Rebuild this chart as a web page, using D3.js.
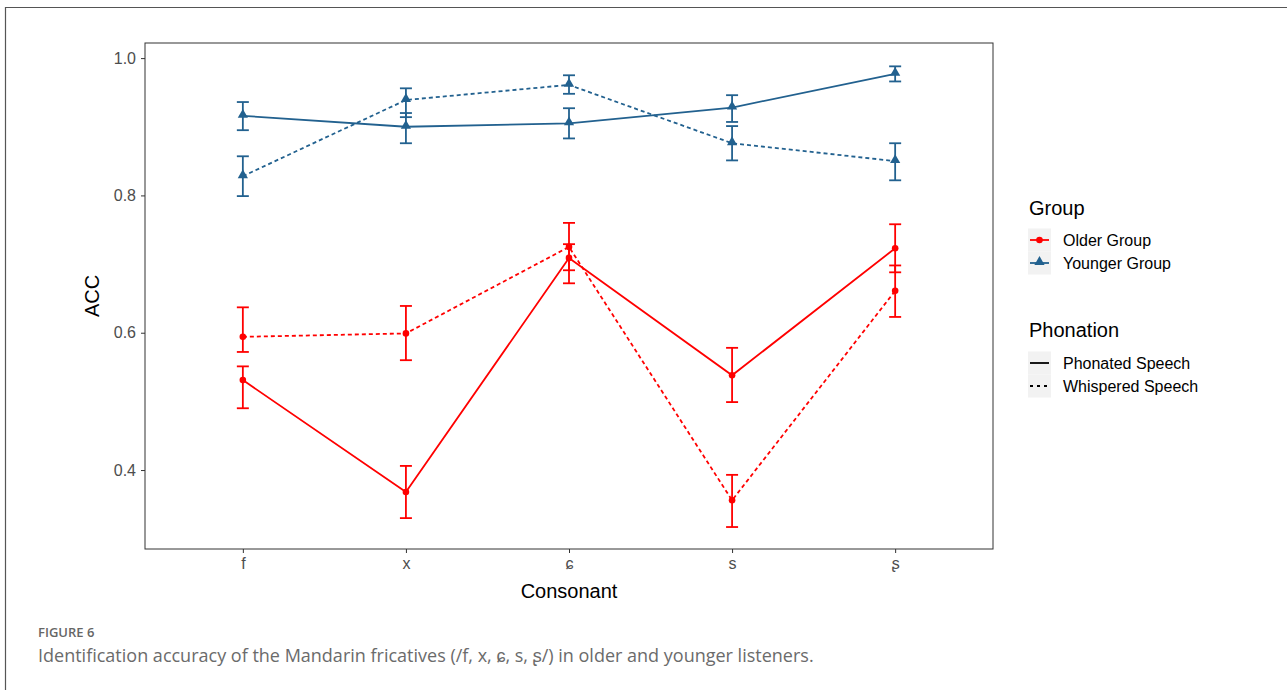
<!DOCTYPE html>
<html>
<head>
<meta charset="utf-8">
<script src="https://cdn.jsdelivr.net/npm/d3@7"></script>
<style>
  body { margin: 0; background: #fff; }
  svg text { font-family: "Liberation Sans", Arial, sans-serif; }
</style>
</head>
<body>
<div id="main"></div>
<script>
const Width = 1287, Height = 690;

// data
const consonants = ["f", "x", "ɕ", "s", "ʂ"];
const groups = ["Older Group", "Younger Group"];
const phonations = ["Phonated Speech", "Whispered Speech"];

const olderPhonated      = [0.531, 0.368, 0.709, 0.538, 0.723];
const olderPhonatedLo    = [0.490, 0.330, 0.672, 0.499, 0.688];
const olderPhonatedHi    = [0.551, 0.406, 0.729, 0.578, 0.758];
const olderWhispered     = [0.594, 0.599, 0.725, 0.356, 0.661];
const olderWhisperedLo   = [0.572, 0.560, 0.691, 0.317, 0.623];
const olderWhisperedHi   = [0.637, 0.639, 0.760, 0.393, 0.698];
const youngerPhonated    = [0.916, 0.900, 0.905, 0.928, 0.977];
const youngerPhonatedLo  = [0.895, 0.876, 0.883, 0.907, 0.966];
const youngerPhonatedHi  = [0.936, 0.920, 0.927, 0.946, 0.988];
const youngerWhispered   = [0.828, 0.939, 0.961, 0.876, 0.850];
const youngerWhisperedLo = [0.799, 0.914, 0.948, 0.851, 0.822];
const youngerWhisperedHi = [0.857, 0.956, 0.975, 0.901, 0.876];
const yTicks = [0.4, 0.6, 0.8, 1.0];

const colors = {"Older Group": "#ff0000", "Younger Group": "#22618f"};
const dashes = {"Phonated Speech": null, "Whispered Speech": "4,3"};

const series = [
  {group: groups[0], phon: phonations[0], v: olderPhonated, lo: olderPhonatedLo, hi: olderPhonatedHi},
  {group: groups[0], phon: phonations[1], v: olderWhispered, lo: olderWhisperedLo, hi: olderWhisperedHi},
  {group: groups[1], phon: phonations[0], v: youngerPhonated, lo: youngerPhonatedLo, hi: youngerPhonatedHi},
  {group: groups[1], phon: phonations[1], v: youngerWhispered, lo: youngerWhisperedLo, hi: youngerWhisperedHi}
];

const svg = d3.select("#main").append("svg")
    .attr("width", Width).attr("height", Height);

// outer frame (top + left only)
svg.append("path").attr("d", `M5.5,${Height} V7.5 H${Width}`)
    .attr("fill", "none").attr("stroke", "#555").attr("stroke-width", 1.2);

const panel = {left: 145, top: 43, right: 993, bottom: 549};

let Xscale = d3.scalePoint().domain(consonants)
    .range([panel.left, panel.right]).padding(0.6);
let Yscale = d3.scaleLinear().domain([0.285, 1.022]).range([panel.bottom, panel.top]);

svg.append("rect")
    .attr("x", panel.left).attr("y", panel.top)
    .attr("width", panel.right - panel.left).attr("height", panel.bottom - panel.top)
    .attr("fill", "none").attr("stroke", "#333").attr("stroke-width", 1);

const xAxis = svg.append("g")
    .attr("transform", `translate(0, ${panel.bottom})`)
    .call(d3.axisBottom(Xscale).tickSize(4).tickPadding(5));
const yAxis = svg.append("g")
    .attr("transform", `translate(${panel.left}, 0)`)
    .call(d3.axisLeft(Yscale).tickValues(yTicks).tickFormat(d3.format(".1f")).tickSize(4).tickPadding(5));
[xAxis, yAxis].forEach(a => {
  a.attr("font-family", null).attr("font-size", null);
  a.select(".domain").remove();
  a.selectAll("line").attr("stroke", "#333").attr("stroke-width", 1);
  a.selectAll("text").attr("fill", "#4d4d4d").style("font-size", "16px")
      .style("font-family", "'Liberation Sans', Arial, sans-serif");
});

svg.append("text").attr("x", (panel.left + panel.right) / 2).attr("y", 598)
    .attr("text-anchor", "middle").style("font-size", "20px").text("Consonant");
svg.append("text").attr("transform", `translate(99, ${(panel.top + panel.bottom) / 2}) rotate(-90)`)
    .attr("text-anchor", "middle").style("font-size", "20px").text("ACC");

const line = d3.line().x((d, i) => Xscale(consonants[i])).y(d => Yscale(d));
const capW = 6;
const triangle = d3.symbol().type(d3.symbolTriangle).size(45);

series.forEach(s => {
  const c = colors[s.group];
  const g = svg.append("g");
  g.append("path").datum(s.v).attr("d", line)
      .attr("fill", "none").attr("stroke", c).attr("stroke-width", 1.8)
      .attr("stroke-dasharray", dashes[s.phon]);
  consonants.forEach((k, i) => {
    const x = Xscale(k);
    g.append("line").attr("x1", x).attr("x2", x)
        .attr("y1", Yscale(s.lo[i])).attr("y2", Yscale(s.hi[i]))
        .attr("stroke", c).attr("stroke-width", 1.8);
    [s.lo[i], s.hi[i]].forEach(e => {
      g.append("line").attr("x1", x - capW).attr("x2", x + capW)
          .attr("y1", Yscale(e)).attr("y2", Yscale(e))
          .attr("stroke", c).attr("stroke-width", 1.8);
    });
    if (s.group === groups[0]) {
      g.append("circle").attr("cx", x).attr("cy", Yscale(s.v[i])).attr("r", 3.3).attr("fill", c);
    } else {
      g.append("path").attr("d", triangle)
          .attr("transform", `translate(${x},${Yscale(s.v[i]) - 1})`).attr("fill", c);
    }
  });
});

// legends
const lx = 1029;
svg.append("text").attr("x", lx).attr("y", 215).style("font-size", "20px").text("Group");
groups.forEach((gname, i) => {
  const y = 240 + i * 23;
  svg.append("rect").attr("x", lx - 1).attr("y", y - 11.5).attr("width", 23).attr("height", 23).attr("fill", "#f2f2f2");
  svg.append("line").attr("x1", lx + 1).attr("x2", lx + 20).attr("y1", y).attr("y2", y)
      .attr("stroke", colors[gname]).attr("stroke-width", 1.8);
  if (i === 0) {
    svg.append("circle").attr("cx", lx + 10.5).attr("cy", y).attr("r", 3.3).attr("fill", colors[gname]);
  } else {
    svg.append("path").attr("d", triangle).attr("transform", `translate(${lx + 10.5},${y - 1})`).attr("fill", colors[gname]);
  }
  svg.append("text").attr("x", 1063).attr("y", y + 5.5).style("font-size", "16px").text(gname);
});

svg.append("text").attr("x", lx).attr("y", 337).style("font-size", "20px").text("Phonation");
phonations.forEach((p, i) => {
  const y = 363 + i * 23;
  svg.append("rect").attr("x", lx - 1).attr("y", y - 11.5).attr("width", 23).attr("height", 23).attr("fill", "#f2f2f2");
  svg.append("line").attr("x1", lx + 1).attr("x2", lx + 20).attr("y1", y).attr("y2", y)
      .attr("stroke", "#000").attr("stroke-width", 1.8).attr("stroke-dasharray", dashes[p] ? "3,4" : null);
  svg.append("text").attr("x", 1063).attr("y", y + 5.5).style("font-size", "16px").text(p);
});

// caption
svg.append("text").attr("x", 38).attr("y", 637)
    .style("font-family", "'Open Sans', sans-serif").style("font-size", "13px")
    .attr("fill", "#666").style("font-weight", 600).text("FIGURE 6");
svg.append("text").attr("x", 38).attr("y", 662)
    .style("font-family", "'Open Sans', sans-serif").style("font-size", "18px")
    .attr("fill", "#6b6b6b").text("Identification accuracy of the Mandarin fricatives (/f, x, ɕ, s, ʂ/) in older and younger listeners.");
</script>
</body>
</html>
